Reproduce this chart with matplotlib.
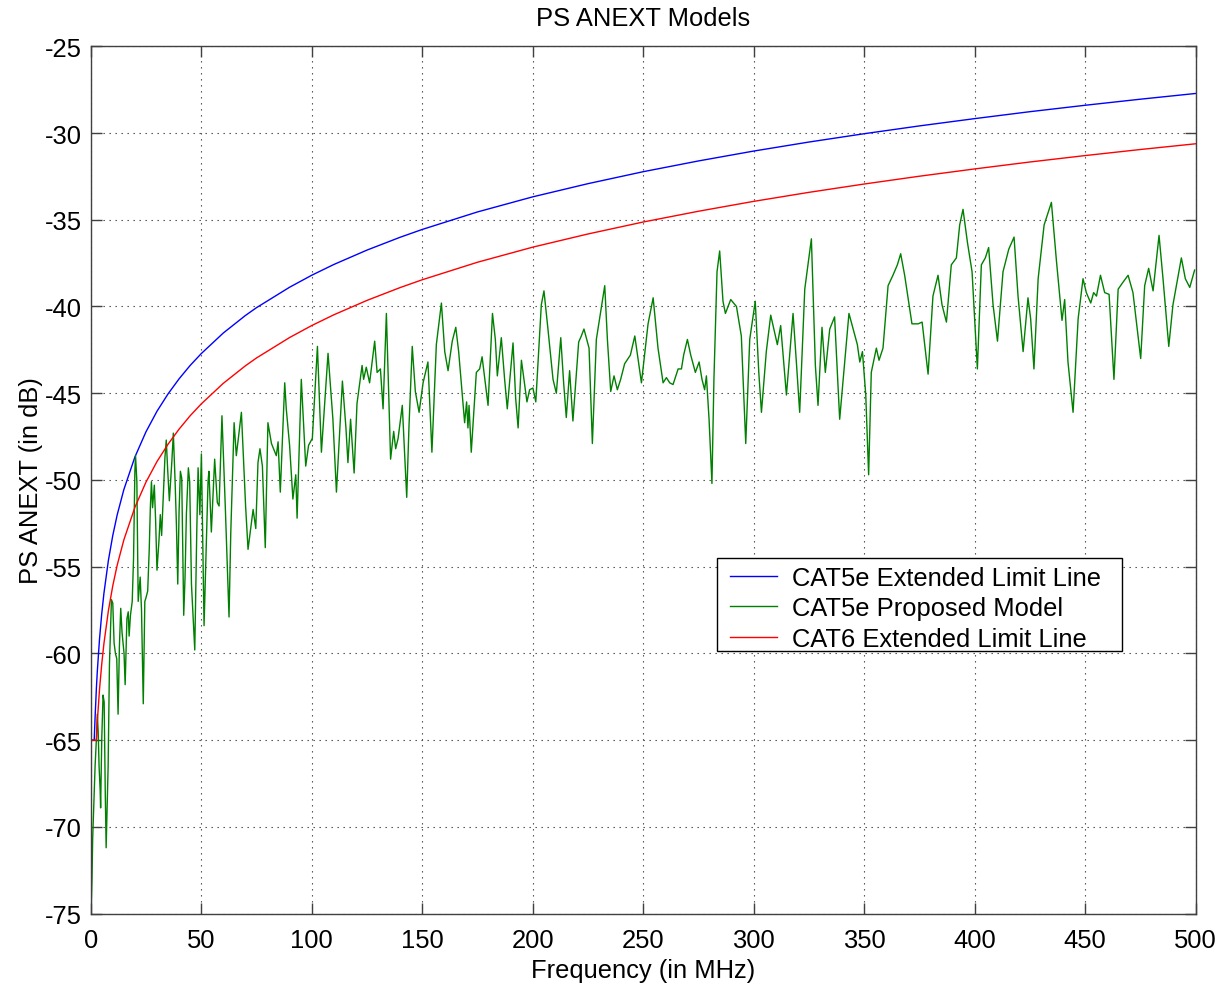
import matplotlib
matplotlib.use('Agg')
import matplotlib.pyplot as plt
from matplotlib.patches import Rectangle

plt.rcParams['font.family'] = ['Liberation Sans', 'DejaVu Sans']
plt.rcParams['axes.unicode_minus'] = False

# limit lines (MHz, dB)
limit_freq = [0, 1, 1.6, 2, 2.6, 3, 4, 5, 6, 8, 10, 12, 15, 20, 25, 30, 35, 40, 45, 50, 60,
              70, 75, 90, 100, 110, 125, 140, 150, 175, 200, 225, 250, 275, 300, 325, 350,
              375, 400, 425, 450, 475, 500]
cat5e_limit = [-65, -65, -65, -63.68, -61.97, -61.04, -59.17, -57.72, -56.53, -54.65, -53.2,
               -52.01, -50.56, -48.68, -47.23, -46.04, -45.04, -44.17, -43.4, -42.72, -41.53,
               -40.52, -40.07, -38.89, -38.2, -37.58, -36.75, -36.01, -35.56, -34.55, -33.68,
               -32.92, -32.23, -31.61, -31.04, -30.52, -30.04, -29.59, -29.17, -28.77, -28.4,
               -28.05, -27.72]
cat6_limit = [-65, -65, -65, -65, -65, -63.94, -62.07, -60.62, -59.43, -57.55, -56.1, -54.91,
              -53.46, -51.58, -50.13, -48.94, -47.94, -47.07, -46.3, -45.62, -44.43, -43.42,
              -42.97, -41.79, -41.1, -40.48, -39.65, -38.91, -38.46, -37.45, -36.58, -35.82,
              -35.13, -34.51, -33.94, -33.42, -32.94, -32.49, -32.07, -31.67, -31.3, -30.95,
              -30.62]

# proposed model
model_freq = [0.3, 0.6, 0.9, 1.4, 2.0, 2.6, 3.0, 3.4, 3.8, 4.3, 4.5, 5.0, 5.6, 6.1, 6.6, 7.0,
              7.5, 7.9, 8.5, 9.4, 10.0, 10.6, 11.2, 11.8, 12.4, 13.0, 13.6, 14.2, 15.1, 15.6,
              16.4, 17.0, 17.4, 18.0, 18.8, 19.4, 20.0, 20.3, 20.9, 21.5, 22.4, 23.0, 23.8,
              24.5, 25.0, 25.8, 26.5, 27.0, 27.5, 28.0, 28.8, 29.4, 30.0, 30.9, 31.5, 32.1,
              32.7, 33.6, 34.2, 34.8, 35.6, 36.7, 37.4, 38.2, 38.8, 39.4, 40.0, 40.6, 41.2,
              42.1, 42.7, 43.3, 44.2, 44.8, 45.6, 47.1, 48.0, 48.6, 49.4, 50.1, 51.3, 53.1,
              53.5, 54.6, 56.1, 57.3, 58.1, 59.4, 60.9, 62.6, 63.4, 64.9, 65.9, 68.2, 69.4,
              70.1, 71.2, 73.5, 74.7, 75.7, 76.6, 77.7, 79.0, 80.2, 81.8, 84.0, 84.8, 85.8,
              87.8, 88.5, 90.0, 91.5, 92.8, 93.4, 95.3, 97.3, 98.6, 100.3, 102.6, 104.4,
              107.4, 109.6, 111.2, 113.9, 115.5, 116.4, 117.6, 119.2, 120.5, 122.8, 123.5,
              124.7, 126.2, 128.5, 129.6, 131.1, 132.3, 133.8, 135.7, 137.1, 138.0, 139.1,
              141.0, 143.0, 144.0, 145.5, 146.9, 148.6, 150.4, 152.6, 154.4, 156.4, 158.7,
              160.2, 161.7, 163.6, 165.2, 166.5, 169.2, 170.1, 170.7, 171.2, 172.2, 174.5,
              176.0, 177.1, 179.8, 181.8, 183.1, 184.0, 185.8, 187.3, 188.5, 191.1, 192.3,
              193.4, 194.9, 197.4, 198.6, 200.1, 201.4, 203.9, 205.1, 206.9, 209.2, 210.7,
              212.7, 214.0, 215.2, 216.7, 218.2, 220.8, 222.0, 223.2, 225.5, 227.0, 228.8,
              232.6, 233.8, 235.3, 236.8, 238.3, 239.8, 241.6, 244.2, 246.2, 249.2, 252.2,
              254.5, 256.7, 259.0, 260.5, 262.0, 263.5, 265.8, 267.3, 268.3, 270.0, 271.5,
              273.6, 275.3, 276.6, 277.8, 278.6, 279.8, 281.1, 282.0, 283.4, 284.6, 286.1,
              287.2, 289.6, 292.2, 294.4, 296.4, 298.2, 300.7, 302.3, 303.5, 305.7, 307.7,
              310.7, 312.2, 313.3, 314.8, 317.8, 319.3, 320.8, 323.1, 326.1, 327.9, 329.1,
              330.9, 332.4, 334.4, 336.6, 338.9, 343.1, 345.0, 346.9, 348.0, 349.2, 350.7,
              352.0, 353.2, 355.5, 356.7, 358.5, 360.8, 363.0, 365.0, 366.5, 368.3, 371.6,
              374.4, 376.2, 378.9, 381.1, 383.4, 385.2, 387.2, 389.4, 391.7, 393.2, 394.7,
              396.7, 398.8, 401.2, 403.0, 404.8, 406.3, 408.3, 410.3, 412.8, 415.4, 417.8,
              419.6, 421.9, 424.1, 425.3, 426.8, 428.7, 431.4, 434.7, 437.0, 439.5, 440.7,
              442.2, 444.5, 446.8, 449.0, 450.5, 452.5, 453.8, 455.1, 456.9, 458.8, 460.8,
              463.0, 464.9, 467.1, 469.4, 471.6, 475.1, 476.9, 478.7, 480.7, 483.4, 485.2,
              487.8, 489.7, 493.5, 495.3, 497.3, 499.5]
model_db = [-74.4, -73.0, -70.7, -68.7, -66.5, -64.9, -63.5, -64.5, -66.5, -67.9, -68.9, -65.0,
            -62.4, -62.8, -68.0, -71.2, -68.5, -66.5, -60.6, -56.9, -57.1, -59.4, -60.0, -60.3,
            -63.5, -59.6, -57.4, -58.8, -60.0, -61.8, -58.0, -57.6, -59.0, -57.8, -57.0, -54.5,
            -49.5, -48.6, -50.1, -57.0, -55.6, -57.5, -62.9, -57.0, -56.8, -56.4, -54.0, -51.6,
            -50.1, -51.6, -50.3, -52.4, -55.2, -53.5, -52.0, -53.2, -51.4, -48.7, -47.7, -49.3,
            -51.2, -49.0, -47.3, -50.1, -52.6, -56.0, -51.8, -49.5, -49.9, -57.8, -55.6, -52.0,
            -49.3, -50.1, -56.0, -59.8, -53.0, -49.3, -52.0, -48.5, -58.4, -50.1, -49.5, -53.0,
            -48.8, -51.3, -51.5, -46.3, -51.5, -57.9, -53.0, -46.7, -48.6, -46.1, -49.5, -51.5,
            -54.0, -51.7, -52.8, -49.0, -48.2, -49.2, -53.9, -46.7, -47.9, -48.6, -47.8, -50.7,
            -44.4, -45.9, -48.0, -51.1, -49.7, -52.2, -44.2, -49.2, -48.0, -47.6, -42.3, -48.4,
            -42.7, -46.5, -50.7, -44.3, -47.0, -49.0, -46.5, -49.6, -45.6, -43.4, -44.2, -43.5,
            -44.4, -42.0, -43.8, -43.6, -45.9, -40.4, -48.8, -47.2, -48.2, -47.6, -45.7, -51.0,
            -47.0, -42.3, -44.9, -46.1, -44.4, -43.2, -48.4, -42.2, -39.8, -42.6, -43.7, -42.0,
            -41.2, -42.6, -46.7, -45.5, -47.0, -45.7, -48.4, -43.8, -43.6, -42.9, -45.7, -40.4,
            -41.9, -44.0, -41.8, -44.2, -45.9, -42.1, -45.3, -47.0, -43.1, -45.5, -44.8, -44.7,
            -45.5, -39.9, -39.1, -41.3, -44.2, -45.0, -41.8, -44.4, -46.4, -43.7, -46.6, -42.05,
            -41.7, -41.3, -42.4, -47.9, -41.9, -38.8, -41.9, -44.9, -44.0, -44.8, -44.2, -43.3,
            -42.8, -41.7, -44.4, -41.0, -39.5, -42.4, -44.4, -44.1, -44.4, -44.5, -43.6, -43.6,
            -42.8, -41.9, -42.8, -43.8, -43.2, -44.2, -44.8, -44.0, -46.5, -50.2, -44.2, -38.0,
            -36.8, -39.7, -40.4, -39.6, -40.0, -41.7, -47.9, -41.9, -39.7, -43.8, -46.1, -42.6,
            -40.5, -42.2, -41.1, -42.8, -45.1, -40.4, -43.2, -46.1, -39.0, -36.1, -43.4, -45.7,
            -41.2, -43.8, -41.3, -40.6, -46.5, -40.4, -41.3, -42.2, -43.2, -42.6, -45.1, -49.7,
            -43.8, -42.4, -43.1, -42.4, -38.8, -38.2, -37.6, -36.96, -38.2, -41.0, -41.0, -40.9,
            -43.9, -39.4, -38.2, -39.9, -40.9, -37.6, -37.2, -35.3, -34.4, -36.3, -38.0, -43.6,
            -37.6, -37.2, -36.6, -39.9, -42.0, -38.0, -36.7, -36.0, -39.4, -42.6, -39.5, -40.7,
            -43.6, -38.4, -35.3, -34.0, -37.4, -40.8, -39.6, -43.2, -46.1, -40.7, -38.4, -39.2,
            -39.8, -39.2, -39.4, -38.2, -39.2, -39.3, -44.2, -39.0, -38.6, -38.2, -39.2, -43.0,
            -38.8, -37.8, -39.1, -35.9, -38.4, -42.3, -39.9, -37.2, -38.4, -38.9, -37.9]

x_ticks = list(range(0, 501, 50))
y_ticks = list(range(-75, -24, 5))

fig = plt.figure(figsize=(12.22, 9.87), dpi=100)
ax = fig.add_axes([0.0742, 0.0733, 0.9043, 0.8788])

ax.plot(limit_freq, cat5e_limit, color='#0000ff', lw=1.0, label='CAT5e Extended Limit Line')
ax.plot(model_freq, model_db, color='#008000', lw=1.0, label='CAT5e Proposed Model')
ax.plot(limit_freq, cat6_limit, color='#ff0000', lw=1.0, label='CAT6 Extended Limit Line')

ax.set_xlim(0, 500)
ax.set_ylim(-75, -25)
ax.set_xticks(x_ticks)
ax.set_yticks(y_ticks)
ax.grid(True, color='0.25', lw=0.8, ls=(0, (1.2, 4.2)))
ax.tick_params(direction='in', top=True, right=True, length=8, width=1,
               color='0.25', labelsize=18.4)
ax.tick_params(axis='x', pad=10.5)
ax.tick_params(axis='y', pad=6.5)
for s in ax.spines.values():
    s.set_color('0.25')
    s.set_linewidth(1.0)

ax.set_title('PS ANEXT Models', fontsize=18.4, pad=15)
ax.set_xlabel('Frequency (in MHz)', fontsize=18.4, labelpad=4)
ax.set_ylabel('PS ANEXT (in dB)', fontsize=18.4, labelpad=1)

# legend box drawn separately so the padding can be set freely
box = Rectangle((0.5668, 0.3029), 0.3665, 0.1069, transform=ax.transAxes,
                facecolor='white', edgecolor='black', lw=1.0, zorder=4.5)
ax.add_patch(box)
leg = ax.legend(loc='upper left', bbox_to_anchor=(0.5786, 0.4008), frameon=False,
                fontsize=18.4, borderpad=0, borderaxespad=0, handlelength=1.84,
                handletextpad=0.6, labelspacing=0.25)
leg.set_zorder(5)

fig.savefig('out.png', dpi=100)
